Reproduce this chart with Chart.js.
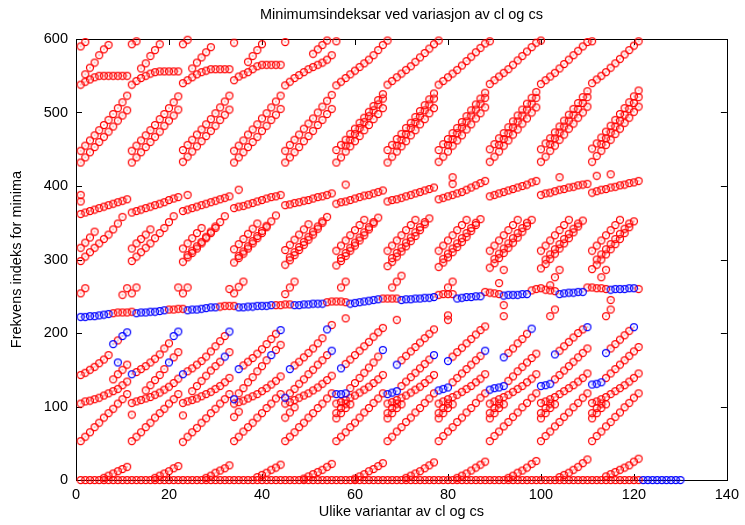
<!DOCTYPE html>
<html>
<head>
<meta charset="utf-8">
<title>Minimumsindeksar</title>
<script src="https://cdn.jsdelivr.net/npm/chart.js@4.4.1/dist/chart.umd.min.js"></script>
<style>
  html, body { margin: 0; padding: 0; background: #fff; }
  #wrap { width: 745px; height: 525px; }
</style>
</head>
<body>
<div id="wrap"><canvas id="minimaChart" width="745" height="525"></canvas></div>
<script>
// Minimumsindeksar ved variasjon av cl og cs - scatter i gnuplot-stil

const TITLE = 'Minimumsindeksar ved variasjon av cl og cs';
const X_LABEL = 'Ulike variantar av cl og cs';
const Y_LABEL = 'Frekvens indeks for minima';
const X_TICKS = [0, 20, 40, 60, 80, 100, 120, 140];
const Y_TICKS = [0, 100, 200, 300, 400, 500, 600];
const FONT = '"Liberation Sans", Arial, Helvetica, sans-serif';
const FONT_SIZE = 14.5;

// Strands: [first variant x, y, y, ...]  (null = that point sits in the blue series)

const zeroRow = [1,
  0,0,0,0,0,0,0,0,0,0,0, 0,0,0,0,0,0,0,0,0,0,0, 0,0,0,0,0,0,0,0,0,0,0,
  0,0,0,0,0,0,0,0,0,0,0, 0,0,0,0,0,0,0,0,0,0,0, 0,0,0,0,0,0,0,0,0,0,0,
  0,0,0,0,0,0,0,0,0,0,0, 0,0,0,0,0,0,0,0,0,0,0, 0,0,0,0,0,0,0,0,0,0,0,
  0,0,0,0,0,0,0,0,0,0,0, 0,0,0,0,0,0,0,0,0,0,0];
const zeroRowBlue = [122, 0,0,0,0,0,0,0,0,0];

const riseStrands = [
  [6, 3,6,9,12,15,18],
  [17, 3,6,9,12,16,19],
  [28, 3,6,10,13,16,20],
  [39, 4,7,10,14,17,21],
  [49, 2,5,8,11,14,18,22],
  [60, 2,5,8,12,15,19,23],
  [71, 3,6,9,12,16,20,24],
  [82, 3,6,9,13,17,21,25],
  [93, 3,6,10,13,17,22,26],
  [104, 4,7,10,14,18,23,28],
  [114, 5,8,11,14,17,20,25,29]
];

const strandA = [
  [1, 53,59,65,72,78,85,91,97,104,110,117],
  [12, 53,59,65,72,78,85,91,97,104,110,117],
  [23, 52,59,65,71,78,84,91,97,104,110,117],
  [34, 53,59,66,72,78,85,91,98,104,111,117],
  [45, 53,59,65,72,78,85,91,98,104,111,118],
  [56, 53,59,65,72,78,85,92,98,105,111,118],
  [67, 53,59,66,72,79,85,92,98,105,111,118],
  [78, 53,60,66,72,79,85,92,98,105,112,118],
  [89, 53,60,66,73,79,86,92,99,105,112,118],
  [100, 53,60,66,73,79,86,92,99,105,112,118],
  [111, 53,60,66,73,79,86,92,99,105,112,118]
];

const clusterStrands = [
  [12, 89], [23, 88], [34, 86,93], [45, 85,92,99],
  [56, 84,91,98,103], [56, 91,98,104],
  [67, 84,91,98,103], [67, 91,98,104],
  [78, 84,91,98,103], [78, 91,98,104],
  [89, 84,91,98,103], [89, 91,98,104],
  [100, 84,91,98,103], [100, 91,98,104],
  [111, 84,91,98,103], [111, 91,98,104]
];

const strandB = [
  [1, 104,107,108,110,112,115,118,121,124,129,134],
  [12, 105,107,109,111,113,116,119,123,127,132,138],
  [23, 105,107,109,111,114,117,120,124,128,133,139],
  [34, 104,106,108,111,114,117,121,125,130,135,141],
  [45, 104,106,109,112,115,118,122,126,131,136,142],
  [56, 104,106,109,112,115,119,123,127,132,137,143],
  [67, 104,106,109,112,115,119,123,127,132,137,143],
  [78, 104,107,110,113,116,120,124,128,133,138,144],
  [89, 104,107,110,113,116,120,124,128,133,138,144],
  [100, 105,107,110,113,117,121,125,129,134,139,145],
  [111, 105,107,110,113,117,121,125,129,134,139,145]
];

const strandC = [
  [1, 143,146,150,154,159,164,170,null,190,null,null],
  [13, 147,151,155,160,165,171,179,186,null,null],
  [24, 148,152,157,162,168,175,182,189,196],
  [36, 156,161,166,172,178,185,192,199],
  [47, 156,161,167,173,179,186,193],
  [58, 158,164,170,176,182,188,195,201,207],
  [70, 163,169,175,181,187,193,199,205],
  [81, 168,174,180,186,192,198,204,209],
  [93, 173,179,186,192,199],
  [104, 176,182,188,194,200,205],
  [115, 179,185,191,197,203]
];

const strandG = [
  [8, 137,144,150,157],
  [15, 122,129,136,143,151,null,167,174],
  [25, 121,128,135,142,149,155,161,null,174],
  [35, 118,125,133,140,148,155,163,null,177,184],
  [46, 118,124,131,137,144,150,157,163,170],
  [59, 125,132,139,146,153,160,168],
  [70, 128,134,140,146,152,158,164],
  [81, 133,139,145,151,157,163,169],
  [93, 135,141,148,154,160,166,172],
  [103, 137,143,149,155,161,167,173,179],
  [114, 139,145,151,157,163,169,175,181]
];

const bandBlue = [
  [1, 222,222,223,223,224,225,226],
  [13, 227,228,228,229,229,230,231],
  [24, 231,232,232,233,234,235,235],
  [35, 235,235,236,236,237,237,237,238],
  [47, 238,238,239,239,240,240,240],
  [59, 240,241,242,243,244,245,246],
  [70, 245,246,246,247,247,248,248,249],
  [82, 247,248,249,249,250,250],
  [92, 251,252,252,252,253,253],
  [104, 253,254,255,255,256,256],
  [115, 259,260,260,260,261,261]
];

const bandRed = [
  [8, 227,228,228,228,229],
  [20, 232,232,233,233],
  [31, 236,237,237,237],
  [43, 238,238,239,239],
  [54, 242,243,243,243,242],
  [66, 247,247,247,247],
  [78, 252,253,253,253],
  [88, 256,255,254,253],
  [98, 258,260,261,259,258,257],
  [110, 262,262,261,261,260],
  [121, 260]
];

const strandL1 = [
  [1, 298,304,310,316,322,328,334,341,349,358],
  [12, 298,304,310,316,322,329,336,343,351,359],
  [23, 297,303,309,315,322,329,336,343,351,359],
  [34, 296,302,308,315,322,329,336,344,352,360],
  [45, 293,299,306,313,320,327,334,342,350,358],
  [56, 292,298,305,312,319,326,333,341,349,357],
  [67, 291,297,304,311,318,325,332,340,348,356],
  [78, 290,296,303,310,317,324,331,339,347,355],
  [89, 289,295,302,309,316,323,330,338,346,354],
  [100, 288,294,301,308,315,322,329,337,345,353],
  [111, 287,293,300,307,314,321,328,336,344,352]
];

const strandL2 = [
  [24, 306,312,318,324,331,338,345],
  [35, 305,311,318,325,332,339,346],
  [46, 303,310,317,324,331,338,345,352],
  [57, 302,309,316,323,330,337,344,351],
  [68, 302,309,316,323,330,337,344,351],
  [79, 301,308,315,322,329,336,343,350],
  [90, 301,308,315,322,329,336,343,350],
  [101, 300,307,314,321,328,335,342,349],
  [112, 300,307,314,321,328,335,342,349]
];

const strandS = [
  [1, 316,323,330,338],
  [12, 315,322,328,334,341],
  [23, 315,322,329,336,343],
  [34, 314,321,328,335,342,349],
  [45, 313,320,327,334,341,348],
  [56, 312,319,326,333,340,347,354],
  [67, 312,319,326,333,340,347,354],
  [78, 312,319,326,333,340,347,354],
  [89, 312,319,326,333,340,347,354],
  [100, 312,319,326,333,340,347,354],
  [111, 312,319,326,333,340,347,354]
];

const strandM = [
  [1, 362,364,366,368,370,372,374,376,378,380,382],
  [12, 364,366,368,370,372,374,376,378,381,383,385],
  [23, 366,368,370,372,374,376,378,380,382,384,386],
  [34, 370,372,373,375,377,379,381,383,385,386,388],
  [45, 374,375,377,378,380,381,383,385,386,388,390],
  [56, 376,378,379,381,383,385,387,388,390,392,394],
  [67, 379,381,382,384,386,388,390,392,394,396,398],
  [78, 382,384,386,388,390,392,395,398,401,404,407],
  [89, 386,388,390,392,394,396,398,400,402,405,407],
  [100, 388,390,391,393,395,396,398,399,401,402,403],
  [111, 391,393,395,396,398,399,401,402,404,405,407]
];

const strandP1 = [
  [1, 432,439,446,453,460,467,474,481,489,496,503],
  [12, 432,439,446,453,460,467,474,482,489,496,504],
  [23, 433,440,447,454,461,468,475,482,490,497,504],
  [34, 432,439,446,453,460,467,475,482,490,497,505],
  [45, 432,439,446,453,461,468,475,483,490,498,505],
  [56, 432,439,447,454,461,468,476,483,491,498,506],
  [67, 432,440,447,454,461,469,476,484,491,499,506],
  [78, 433,440,447,455,462,469,477,484,492,499,507],
  [89, 433,440,447,455,462,470,477,485,492,500,507],
  [100, 433,440,448,455,463,470,478,485,493,500,508],
  [111, 433,441,448,456,463,471,478,486,493,501,508]
];

const strandP2 = [
  [1, 448,455,462,469,476,483,490,498,506,514,523],
  [12, 448,455,462,469,476,483,491,498,506,514,522],
  [23, 449,456,463,470,477,484,491,499,507,515,523],
  [34, 448,455,462,470,477,484,492,499,507,515,523],
  [45, 448,456,463,470,478,485,492,500,508,516,524],
  [56, 449,456,463,471,478,486,493,501,509,517,525],
  [67, 449,456,464,471,479,486,494,502,510,518,526],
  [78, 449,457,464,472,479,487,495,503,511,519,527],
  [89, 450,457,465,472,480,488,496,504,512,520,528],
  [100, 450,458,465,473,481,489,497,505,513,521,529],
  [111, 451,458,466,474,482,490,498,506,514,522,530]
];

const strandP3 = [
  [58, 455,463,471,479,487,495,503,511,519],
  [69, 455,463,471,479,487,495,503,511,519],
  [80, 456,464,472,480,488,496,504,512,520],
  [91, 456,464,472,480,488,496,504,512,520],
  [102, 457,465,473,481,489,497,505,513,521],
  [113, 457,465,473,481,489,497,505,513,521]
];

const strandT = [
  [1, 538,542,545,548,550,550,550,550,550,550,550],
  [12, 538,543,547,550,553,555,556,556,556,556,556],
  [23, 540,544,548,552,555,557,559,559,559,559,559],
  [34, 544,549,552,555,559,563,565,565,565,565,565],
  [45, 537,542,547,551,555,559,562,565,568,572,578],
  [56, 537,542,547,552,557,562,567,572,578,585,592],
  [67, 538,543,548,553,558,563,569,575,581,587,593],
  [78, 538,543,548,553,558,564,570,576,582,588,594],
  [89, 539,544,549,554,559,565,571,577,583,589,595],
  [100, 539,544,549,554,560,566,572,578,584,590,596],
  [111, 540,545,550,555,561,567,573,579,585,591,597]
];

const strandU = [
  [2, 552,561,568,578,586,592],
  [14, 560,567,577,585,593],
  [25, 560,568,575,582,589],
  [37, 569,577,585,593],
  [51, 580,586,592,598]
];

const topMarks = [
  [1, 590], [2, 596], [12, 593], [13, 597], [23, 593], [24, 599], [34, 595],
  [45, 596], [56, 597], [67, 598], [78, 598], [89, 597], [100, 598], [111, 597]
];

const strayMarks = [
  [1, 379], [1, 388], [24, 388], [35, 395], [58, 402], [81, 403], [81, 412],
  [104, 412], [112, 414], [115, 416],
  [1, 254], [2, 261], [10, 252], [11, 261], [12, 254], [13, 262], [22, 262],
  [23, 254], [24, 262], [33, 260], [34, 254], [35, 263], [36, 270], [45, 253],
  [46, 262], [47, 270], [57, 262], [58, 270], [68, 262], [69, 270], [70, 278],
  [80, 262], [81, 270], [91, 268], [92, 286], [102, 265], [103, 276], [104, 286],
  [113, 276], [114, 286],
  [58, 220], [69, 218], [80, 224], [80, 218], [92, 238], [92, 223], [102, 223],
  [103, 232], [114, 223], [115, 232], [115, 245], [55, 211]
];

const blueMarks = [
  [8, 185], [10, 196], [11, 201], [9, 160],
  [12, 144], [20, 160], [21, 196], [22, 202],
  [23, 144], [32, 168], [33, 202],
  [34, 110], [35, 151], [42, 170], [44, 204],
  [45, 112], [46, 151], [54, 205], [55, 176],
  [56, 117], [57, 117], [58, 118], [57, 152], [66, 177],
  [67, 117], [68, 119], [69, 121], [69, 157], [77, 170],
  [78, 122], [79, 124], [80, 126], [80, 162], [88, 176],
  [89, 123], [90, 125], [91, 126], [92, 128], [92, 167], [98, 206],
  [100, 128], [101, 129], [102, 131], [103, 171], [110, 208],
  [111, 130], [112, 131], [113, 133], [114, 173], [120, 208]
];

// ---------------------------------------------------------------

function strandPoints(list) {
  const pts = [];
  list.forEach(s => {
    for (let i = 1; i < s.length; i++) {
      if (s[i] !== null) pts.push({ x: s[0] + i - 1, y: s[i] });
    }
  });
  return pts;
}

function pairPoints(list) {
  return list.map(p => ({ x: p[0], y: p[1] }));
}

// gnuplot-lignande ring med prikk i midten
function makeMarker(color) {
  const c = document.createElement('canvas');
  c.width = 10;
  c.height = 10;
  const g = c.getContext('2d');
  g.strokeStyle = color;
  g.lineWidth = 1.25;
  g.beginPath();
  g.arc(5, 5, 3.5, 0, Math.PI * 2);
  g.stroke();
  g.fillStyle = color;
  g.fillRect(4.5, 4.5, 1, 1);
  return c;
}

const redPoints = [].concat(
  strandPoints([zeroRow]),
  strandPoints(riseStrands),
  strandPoints(strandA),
  strandPoints(clusterStrands),
  strandPoints(strandB),
  strandPoints(strandC),
  strandPoints(strandG),
  strandPoints(bandRed),
  strandPoints(strandL1),
  strandPoints(strandL2),
  strandPoints(strandS),
  strandPoints(strandM),
  strandPoints(strandP1),
  strandPoints(strandP2),
  strandPoints(strandP3),
  strandPoints(strandT),
  strandPoints(strandU),
  pairPoints(topMarks),
  pairPoints(strayMarks)
);

const bluePoints = [].concat(
  strandPoints([zeroRowBlue]),
  strandPoints(bandBlue),
  pairPoints(blueMarks)
);

const frameTicks = {
  id: 'frameTicks',
  beforeDatasetsDraw(chart) {
    const { ctx, chartArea: a, scales } = chart;
    ctx.save();
    ctx.strokeStyle = '#000';
    ctx.lineWidth = 1;
    ctx.beginPath();
    X_TICKS.forEach(v => {
      const px = Math.round(scales.x.getPixelForValue(v)) + 0.5;
      ctx.moveTo(px, a.bottom);
      ctx.lineTo(px, a.bottom - 6);
      ctx.moveTo(px, a.top);
      ctx.lineTo(px, a.top + 6);
    });
    Y_TICKS.forEach(v => {
      const py = Math.round(scales.y.getPixelForValue(v)) + 0.5;
      ctx.moveTo(a.left, py);
      ctx.lineTo(a.left + 6, py);
      ctx.moveTo(a.right, py);
      ctx.lineTo(a.right - 6, py);
    });
    ctx.stroke();
    ctx.strokeRect(Math.round(a.left) + 0.5, Math.round(a.top) + 0.5,
      Math.round(a.right - a.left), Math.round(a.bottom - a.top));
    ctx.restore();
  },
  afterDraw(chart) {
    const { ctx, chartArea: a } = chart;
    ctx.save();
    ctx.fillStyle = '#000';
    ctx.font = FONT_SIZE + 'px ' + FONT;
    ctx.textAlign = 'center';
    ctx.textBaseline = 'middle';
    ctx.fillText(TITLE, (a.left + a.right) / 2, 15);
    ctx.restore();
  }
};

const ctx = document.getElementById('minimaChart').getContext('2d');

new Chart(ctx, {
  type: 'scatter',
  data: {
    datasets: [
      {
        label: 'blå',
        data: bluePoints,
        pointStyle: makeMarker('#0000ff'),
        pointRadius: 4,
        pointHoverRadius: 4,
        showLine: false,
        clip: false
      },
      {
        label: 'raud',
        data: redPoints,
        pointStyle: makeMarker('#ff0000'),
        pointRadius: 4,
        pointHoverRadius: 4,
        showLine: false,
        clip: false
      }
    ]
  },
  options: {
    responsive: false,
    animation: false,
    devicePixelRatio: 1,
    events: [],
    layout: { padding: { top: 39, right: 12, bottom: 0, left: 0 } },
    plugins: {
      legend: { display: false },
      tooltip: { enabled: false },
      title: { display: false }
    },
    scales: {
      x: {
        type: 'linear',
        min: 0,
        max: 140,
        afterFit: s => { s.height = 45; },
        grid: { display: false, drawTicks: false },
        border: { display: false },
        ticks: {
          stepSize: 20,
          color: '#000',
          padding: 6,
          maxRotation: 0,
          font: { family: FONT, size: FONT_SIZE }
        },
        title: {
          display: true,
          text: X_LABEL,
          color: '#000',
          font: { family: FONT, size: FONT_SIZE },
          padding: { top: 0, bottom: 4 }
        }
      },
      y: {
        type: 'linear',
        min: 0,
        max: 600,
        afterFit: s => { s.width = 76; },
        grid: { display: false, drawTicks: false },
        border: { display: false },
        ticks: {
          stepSize: 100,
          color: '#000',
          padding: 8,
          font: { family: FONT, size: FONT_SIZE }
        },
        title: {
          display: true,
          text: Y_LABEL,
          color: '#000',
          font: { family: FONT, size: FONT_SIZE },
          padding: { top: 8, bottom: 0 }
        }
      }
    }
  },
  plugins: [frameTicks]
});
</script>
</body>
</html>
